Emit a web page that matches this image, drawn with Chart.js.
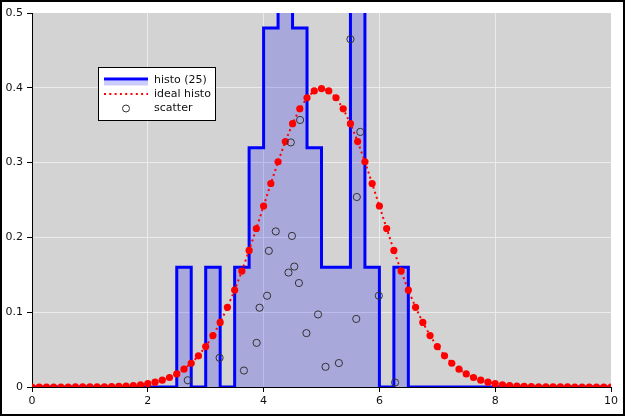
<!DOCTYPE html>
<html>
<head>
<meta charset="utf-8">
<script src="https://cdn.jsdelivr.net/npm/chart.js@4"></script>
<style>
html,body{margin:0;padding:0;background:#fff;}
canvas{display:block;}
</style>
</head>
<body>
<canvas id="c" width="625" height="416"></canvas>
<script>
// Histogram (bin width 0.25, density)
const binEdges = [0,0.25,0.5,0.75,1,1.25,1.5,1.75,2,2.25,2.5,2.75,3,3.25,3.5,3.75,4,4.25,4.5,4.75,5,5.25,5.5,5.75,6,6.25,6.5,6.75,7,7.25,7.5,7.75,8,8.25,8.5,8.75,9,9.25,9.5,9.75,10];
const binHeights = [0,0,0,0,0,0,0,0,0,0,0.16,0,0.16,0,0.16,0.32,0.48,0.64,0.48,0.32,0.16,0.16,0.64,0.16,0,0.16,0,0,0,0,0,0,0,0,0,0,0,0,0,0];

// Ideal histogram (x every 0.125)
const idealX = [0,0.125,0.25,0.375,0.5,0.625,0.75,0.875,1,1.125,1.25,1.375,1.5,1.625,1.75,1.875,2,2.125,2.25,2.375,2.5,2.625,2.75,2.875,3,3.125,3.25,3.375,3.5,3.625,3.75,3.875,4,4.125,4.25,4.375,4.5,4.625,4.75,4.875,5,5.125,5.25,5.375,5.5,5.625,5.75,5.875,6,6.125,6.25,6.375,6.5,6.625,6.75,6.875,7,7.125,7.25,7.375,7.5,7.625,7.75,7.875,8,8.125,8.25,8.375,8.5,8.625,8.75,8.875,9,9.125,9.25,9.375,9.5,9.625,9.75,9.875,10];
const idealY = [0,0,0,0.00001,0.00002,0.00003,0.00005,0.00008,0.00013,0.00022,0.00035,0.00056,0.00087,0.00134,0.00203,0.00302,0.00443,0.0064,0.00909,0.01273,0.01753,0.02377,0.03174,0.04173,0.05399,0.06879,0.08628,0.10654,0.12952,0.15501,0.18265,0.21188,0.24197,0.27205,0.30114,0.32816,0.35207,0.37186,0.38667,0.39584,0.39894,0.39584,0.38667,0.37186,0.35207,0.32816,0.30114,0.27205,0.24197,0.21188,0.18265,0.15501,0.12952,0.10654,0.08628,0.06879,0.05399,0.04173,0.03174,0.02377,0.01753,0.01273,0.00909,0.0064,0.00443,0.00302,0.00203,0.00134,0.00087,0.00056,0.00035,0.00022,0.00013,0.00008,0.00005,0.00003,0.00002,0.00001,0,0,0];

// Scatter
const scatterX = [5.50,4.63,4.47,5.67,5.61,4.21,4.49,4.09,4.53,4.43,4.61,4.06,5.99,3.93,4.94,5.60,4.74,3.88,3.24,3.66,5.30,5.07,2.69,6.27];
const scatterY = [0.465,0.357,0.327,0.341,0.254,0.208,0.202,0.182,0.161,0.153,0.139,0.122,0.122,0.106,0.097,0.091,0.072,0.059,0.039,0.022,0.032,0.027,0.009,0.006];

const xTicks = [0,2,4,6,8,10];
const yTicks = [0,0.1,0.2,0.3,0.4,0.5];
const legendLabels = ['histo (25)','ideal histo','scatter'];

const histData = binEdges.map((e,i)=>({x:e, y: i<binHeights.length ? binHeights[i] : 0}));
const idealData = idealX.map((x,i)=>({x:x, y:idealY[i]}));
const scatData = scatterX.map((x,i)=>({x:x, y:scatterY[i]}));

const FONT = 'DejaVu Sans';

const bgPlugin = {
  id:'bg',
  beforeDraw(chart){
    const {ctx, chartArea:a} = chart;
    ctx.save();
    ctx.fillStyle='#fff';
    ctx.fillRect(0,0,chart.width,chart.height);
    ctx.fillStyle='#d3d3d3';
    ctx.fillRect(a.left,a.top,a.right-a.left,a.bottom-a.top);
    ctx.restore();
  },
  afterDraw(chart){
    const ctx = chart.ctx;
    ctx.save();
    // legend
    const bx=98.5, by=67.5, bw=117, bh=53;
    ctx.fillStyle='#fff';
    ctx.fillRect(bx,by,bw,bh);
    ctx.strokeStyle='#000';
    ctx.lineWidth=1;
    ctx.strokeRect(bx,by,bw,bh);
    // histo handle
    ctx.fillStyle='rgba(0,0,255,0.2)';
    ctx.fillRect(104,80.5,44,5);
    ctx.strokeStyle='#0000ff';
    ctx.lineWidth=3;
    ctx.beginPath(); ctx.moveTo(104,79); ctx.lineTo(148,79); ctx.stroke();
    // ideal handle
    ctx.strokeStyle='#ff0000';
    ctx.lineWidth=2;
    ctx.setLineDash([2,3.3]);
    ctx.beginPath(); ctx.moveTo(104,94); ctx.lineTo(148,94); ctx.stroke();
    ctx.setLineDash([]);
    // scatter handle
    ctx.strokeStyle='#333';
    ctx.lineWidth=1;
    ctx.beginPath(); ctx.arc(126,108.5,3.5,0,Math.PI*2); ctx.stroke();
    ctx.fillStyle='#111';
    ctx.font='11px "'+FONT+'"';
    ctx.textBaseline='middle';
    ctx.textAlign='left';
    ctx.fillText(legendLabels[0],154,80);
    ctx.fillText(legendLabels[1],154,94);
    ctx.fillText(legendLabels[2],154,108.5);
    // figure border
    ctx.strokeStyle='#000';
    ctx.lineWidth=2;
    ctx.strokeRect(1,1,chart.width-2,chart.height-2);
    ctx.restore();
  }
};

new Chart(document.getElementById('c'), {
  type:'line',
  data:{
    datasets:[
      {
        label:legendLabels[0], data:histData, stepped:'before',
        borderColor:'#0000ff', borderWidth:3, backgroundColor:'rgba(0,0,255,0.2)',
        fill:'origin', pointRadius:0, borderJoinStyle:'miter', order:3, tension:0
      },
      {
        label:legendLabels[1], data:idealData,
        borderColor:'#ff0000', borderWidth:2, borderDash:[2,3.3],
        pointRadius:3.6, pointBackgroundColor:'#ff0000', pointBorderWidth:0,
        fill:false, order:2, tension:0
      },
      {
        label:legendLabels[2], data:scatData, showLine:false,
        pointRadius:3.6, pointBorderColor:'#333', pointBorderWidth:1,
        pointBackgroundColor:'rgba(0,0,0,0)', borderColor:'#333', order:1
      }
    ]
  },
  options:{
    responsive:false, animation:false,
    layout:{padding:{top:13,right:14,left:0,bottom:0}},
    plugins:{legend:{display:false}, tooltip:{enabled:false}},
    scales:{
      x:{
        type:'linear', min:0, max:10,
        afterBuildTicks(s){ s.ticks = xTicks.map(v=>({value:v})); },
        afterFit(s){ s.height = 29; },
        ticks:{color:'#111', font:{family:FONT,size:11}, padding:3, maxRotation:0,
               callback:(v)=>String(v)},
        grid:{color:(c)=> (c.tick && (c.tick.value===0||c.tick.value===10)) ? 'rgba(0,0,0,0)' : '#ebebeb',
              tickColor:'#000', tickLength:5, lineWidth:1},
        border:{display:true, color:'#000', width:1}
      },
      y:{
        type:'linear', min:0, max:0.5,
        afterBuildTicks(s){ s.ticks = yTicks.map(v=>({value:v})); },
        afterFit(s){ s.width = 32; },
        ticks:{color:'#111', font:{family:FONT,size:11}, padding:4,
               callback:(v)=>String(Math.round(v*10)/10)},
        grid:{color:(c)=> (c.tick && (c.tick.value===0||c.tick.value===0.5)) ? 'rgba(0,0,0,0)' : '#ebebeb',
              tickColor:'#000', tickLength:5, lineWidth:1},
        border:{display:true, color:'#000', width:1}
      }
    }
  },
  plugins:[bgPlugin]
});
</script>
</body>
</html>
